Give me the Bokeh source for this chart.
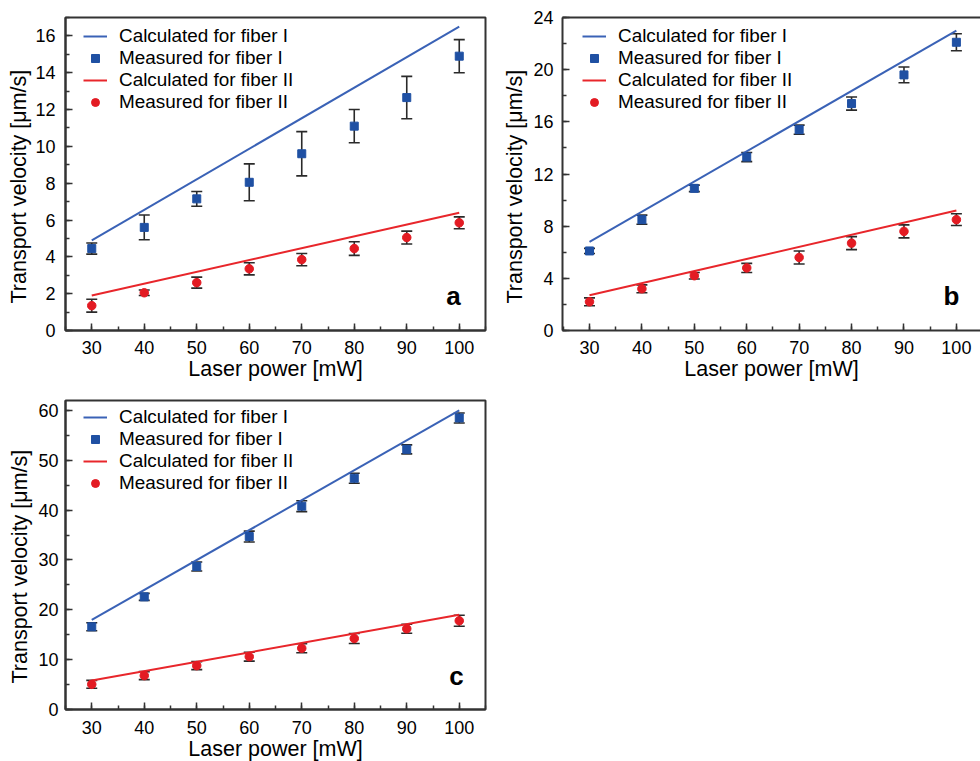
from bokeh.plotting import figure
from bokeh.models import (ColumnDataSource, Whisker, TeeHead, Legend, LegendItem, Label,
                          SingleIntervalTicker, LinearAxis, FixedTicker, Range1d, Title)
from bokeh.layouts import column, row
from bokeh.embed import file_html
from bokeh.resources import INLINE

FONT = "Liberation Sans"

# ---------------- data ----------------
power = [30, 40, 50, 60, 70, 80, 90, 100]
power_ends = [30, 100]

a_calc_I = [4.9, 16.5]
a_meas_I = [4.45, 5.6, 7.15, 8.05, 9.6, 11.1, 12.65, 14.9]
a_err_I = [0.3, 0.67, 0.4, 1.0, 1.2, 0.9, 1.15, 0.9]
a_calc_II = [1.9, 6.4]
a_meas_II = [1.35, 2.05, 2.6, 3.35, 3.85, 4.45, 5.05, 5.85]
a_err_II = [0.35, 0.15, 0.3, 0.33, 0.33, 0.37, 0.35, 0.32]

b_calc_I = [6.8, 23.0]
b_meas_I = [6.1, 8.5, 10.9, 13.3, 15.4, 17.4, 19.6, 22.1]
b_err_I = [0.2, 0.35, 0.25, 0.35, 0.35, 0.5, 0.6, 0.65]
b_calc_II = [2.7, 9.2]
b_meas_II = [2.2, 3.2, 4.2, 4.8, 5.6, 6.7, 7.6, 8.5]
b_err_II = [0.3, 0.3, 0.25, 0.35, 0.5, 0.5, 0.5, 0.45]

c_calc_I = [18.0, 60.0]
c_meas_I = [16.6, 22.6, 28.7, 34.7, 40.8, 46.4, 52.2, 58.5]
c_err_I = [0.8, 0.7, 0.9, 1.1, 1.1, 1.0, 0.9, 1.0]
c_calc_II = [5.8, 19.0]
c_meas_II = [5.05, 6.8, 8.8, 10.6, 12.3, 14.25, 16.2, 17.8]
c_err_II = [0.8, 0.8, 0.8, 0.9, 0.9, 1.0, 0.9, 1.1]

labels = ["Calculated for fiber I", "Measured for fiber I",
          "Calculated for fiber II", "Measured for fiber II"]
x_title = "Laser power [mW]"
y_title = "Transport velocity [\u03bcm/s]"

BLUE_LINE = "#3a62b6"
BLUE_PT = "#1f50a3"
RED_LINE = "#e8262b"
RED_PT = "#e31b23"
ERR = "#2a2a2a"
AX = "#333333"


def style_axis(ax, label, label_standoff, title_standoff):
    ax.axis_label = label
    ax.axis_line_width = 2
    ax.axis_line_color = AX
    ax.major_tick_in = 7
    ax.major_tick_out = 0
    ax.minor_tick_in = 4
    ax.minor_tick_out = 0
    ax.major_tick_line_width = 1.5
    ax.minor_tick_line_width = 1.5
    ax.major_tick_line_color = AX
    ax.minor_tick_line_color = AX
    ax.major_label_text_font = FONT
    ax.major_label_text_font_size = "18px"
    ax.major_label_text_color = "black"
    ax.axis_label_text_font = FONT
    ax.axis_label_text_font_size = "21.5px"
    ax.axis_label_text_font_style = "normal"
    ax.axis_label_text_color = "black"
    ax.major_label_standoff = label_standoff
    ax.axis_label_standoff = title_standoff


def make_panel(tag, calc_I, meas_I, err_I, calc_II, meas_II, err_II,
               x_lo, x_hi, y_hi, y_int, fw, fh, mb_left, mb_right, mb_top, mb_bottom,
               y_std, ytitle_standoff, ytitle_offset, x_std, x_tstd, leg_xy, tag_xy,
               outline=True):
    p = figure(frame_width=fw, frame_height=fh,
               min_border_left=mb_left, min_border_right=mb_right,
               min_border_top=mb_top, min_border_bottom=mb_bottom,
               x_range=Range1d(x_lo, x_hi), y_range=Range1d(0, y_hi),
               output_backend="svg", toolbar_location=None)
    p.xgrid.visible = False
    p.ygrid.visible = False
    p.background_fill_color = "white"
    p.border_fill_color = "white"

    xax = p.below[0]
    yax = p.left[0]
    xax.ticker = SingleIntervalTicker(interval=10, num_minor_ticks=2)
    yax.ticker = SingleIntervalTicker(interval=y_int, num_minor_ticks=2)
    style_axis(xax, x_title, x_std, x_tstd)
    style_axis(yax, None, y_std, 0)

    if outline:
        p.outline_line_color = AX
        p.outline_line_width = 2
    else:
        p.outline_line_color = None
        top = LinearAxis(ticker=FixedTicker(ticks=[]), axis_line_width=2,
                         axis_line_color=AX, major_tick_line_color=None,
                         minor_tick_line_color=None, major_label_text_font_size="0px",
                         major_label_standoff=0, axis_label=None)
        p.add_layout(top, "above")

    # vertical axis title, a little below the frame centre as in the original
    p.add_layout(Title(text=y_title, align="left", offset=ytitle_offset,
                       standoff=ytitle_standoff, vertical_align="bottom",
                       text_font=FONT, text_font_size="21.5px",
                       text_font_style="normal", text_color="black"), "left")

    # error bars
    for meas, err in ((meas_I, err_I), (meas_II, err_II)):
        src = ColumnDataSource(dict(x=power,
                                    upper=[m + e for m, e in zip(meas, err)],
                                    lower=[m - e for m, e in zip(meas, err)]))
        w = Whisker(source=src, base="x", upper="upper", lower="lower",
                    dimension="height", line_color=ERR, line_width=1.6,
                    upper_head=TeeHead(size=11, line_color=ERR, line_width=1.6),
                    lower_head=TeeHead(size=11, line_color=ERR, line_width=1.6),
                    level="underlay")
        p.add_layout(w)

    r1 = p.line(power_ends, calc_I, line_color=BLUE_LINE, line_width=2)
    r2 = p.scatter(power, meas_I, marker="square", size=8,
                   fill_color=BLUE_PT, line_color=BLUE_PT)
    r3 = p.line(power_ends, calc_II, line_color=RED_LINE, line_width=2)
    r4 = p.scatter(power, meas_II, marker="circle", size=8.5,
                   fill_color=RED_PT, line_color=RED_PT)

    legend = Legend(items=[LegendItem(label=labels[0], renderers=[r1]),
                           LegendItem(label=labels[1], renderers=[r2]),
                           LegendItem(label=labels[2], renderers=[r3]),
                           LegendItem(label=labels[3], renderers=[r4])],
                    location=leg_xy,
                    label_text_font=FONT, label_text_font_size="18.9px",
                    label_text_color="black",
                    glyph_width=24, glyph_height=20, label_standoff=12,
                    label_height=21, spacing=0, padding=0, margin=0,
                    border_line_alpha=0, background_fill_alpha=0)
    p.add_layout(legend)

    p.add_layout(Label(x=tag_xy[0], y=tag_xy[1], x_units="screen", y_units="screen",
                       text=tag, text_font=FONT, text_font_size="26px",
                       text_font_style="bold", text_color="black",
                       text_align="center", text_baseline="alphabetic"))
    return p


pa = make_panel("a", a_calc_I, a_meas_I, a_err_I, a_calc_II, a_meas_II, a_err_II,
                25, 105, 17, 2, 420, 313, 65, 10, 17, 60,
                10, 4, 27, 10, 0, (18, 217), (388, 35))
pb = make_panel("b", b_calc_I, b_meas_I, b_err_I, b_calc_II, b_meas_II, b_err_II,
                24.85, 104.6, 24, 4, 418, 313, 67, 0, 17, 60,
                9, 8, 27, 10, 0, (20, 217), (389, 35), outline=False)
pc = make_panel("c", c_calc_I, c_meas_I, c_err_I, c_calc_II, c_meas_II, c_err_II,
                25, 105, 62, 10, 420, 309, 65, 10, 10, 52,
                7, 8, 26, 11, 0, (18, 215), (391, 34))

layout = column(row(pa, pb), pc)
open("out.html", "w").write(file_html(layout, INLINE))
